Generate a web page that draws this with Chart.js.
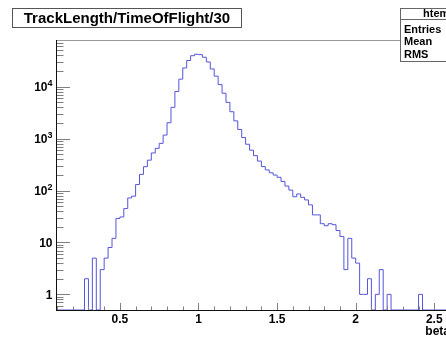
<!DOCTYPE html>
<html><head><meta charset="utf-8">
<script src="https://cdn.jsdelivr.net/npm/chart.js@4/dist/chart.umd.min.js"></script>
<style>
html,body{margin:0;padding:0;overflow:hidden;background:#fff;width:446px;height:338px}
#wrap{position:absolute;left:0;top:0;width:480px;height:338px}
</style>
</head><body><div id="wrap"><canvas id="c" width="480" height="338" style="width:480px;height:338px"></canvas></div>
<script>
// ---- data ----
const titleText = 'TrackLength/TimeOfFlight/30';
const statsName = 'htemp';
const statsLabels = ['Entries', 'Mean', 'RMS'];
const axisTitleX = 'beta';
const binStart = 0.1;
const binWidth = 0.025;
const counts = [
  0, 0, 0, 0, 0, 0, 0, 2, 0, 5,
  0, 3, 5, 8, 12, 29, 31, 45, 72, 78,
  131, 205, 288, 385, 530, 650, 811, 1172, 2024, 4010,
  8100, 14000, 23000, 32000, 39600, 42300, 41500, 37000, 30000, 22000,
  16000, 11000, 7500, 5000, 3300, 2200, 1500, 1050, 780, 600,
  470, 370, 290, 250, 220, 199, 180, 150, 122, 102,
  76, 86, 74, 66, 53, 34, 34, 23, 21, 23,
  22, 17, 13, 3, 12, 5, 4, 1, 1, 2,
  0, 1, 3, 0, 1, 0, 0, 0, 0, 0,
  0, 0, 1, 0, 0, 0, 0, 0, 0, 0
];
const xTickValues = [0.5, 1, 1.5, 2, 2.5];
const xTickLabels = ['0.5', '1', '1.5', '2', '2.5'];
const yTickValues = [1, 10, 100, 1000, 10000];
const yTickBase = ['1', '10', '10', '10', '10'];
const yTickExp = ['', '', '2', '3', '4'];
const xMin = 0.1, xMax = 2.6, yMin = 0.5, yMax = 79500;

// ---- build step points ----
const points = counts.map((c, i) => ({ x: binStart + i * binWidth, y: c > 0 ? c : yMin }));
points.push({ x: binStart + counts.length * binWidth, y: yMin });

const FONT = "'Liberation Sans', Arial, Helvetica, sans-serif";

const rootDecor = {
  id: 'rootDecor',
  afterDraw(chart) {
    const { ctx, chartArea: a, scales: { x, y } } = chart;
    ctx.save();
    // frame top / right
    ctx.lineWidth = 1;
    ctx.strokeStyle = '#9a9a9a';
    ctx.beginPath();
    ctx.moveTo(a.left, a.top + 0.5); ctx.lineTo(a.right, a.top + 0.5);
    ctx.moveTo(a.right - 0.5, a.top); ctx.lineTo(a.right - 0.5, a.bottom);
    ctx.stroke();
    // ticks
    ctx.strokeStyle = '#808080';
    ctx.beginPath();
    for (let v = 0.1; v <= xMax + 1e-9; v += 0.1) {
      const px = Math.round(x.getPixelForValue(v)) + 0.5;
      const major = Math.abs(v * 2 - Math.round(v * 2)) < 1e-6;
      ctx.moveTo(px, a.bottom); ctx.lineTo(px, a.bottom - (major ? 7 : 3.5));
    }
    for (let e = -1; e <= 4; e++) {
      for (let m = 1; m <= 9; m++) {
        const v = m * Math.pow(10, e);
        if (v < yMin || v > yMax) continue;
        const py = Math.round(y.getPixelForValue(v)) + 0.5;
        ctx.moveTo(a.left, py); ctx.lineTo(a.left + (m === 1 ? 13 : 6.5), py);
      }
    }
    ctx.stroke();
    // axes
    ctx.strokeStyle = '#111';
    ctx.beginPath();
    ctx.moveTo(a.left - 0.5, a.top); ctx.lineTo(a.left - 0.5, a.bottom + 1);
    ctx.moveTo(a.left - 1, a.bottom + 0.5); ctx.lineTo(a.right, a.bottom + 0.5);
    ctx.stroke();
    // y tick labels (base + superscript exponent), placed through the y scale
    ctx.fillStyle = '#000';
    ctx.textBaseline = 'alphabetic';
    ctx.textAlign = 'left';
    yTickValues.forEach((v, i) => {
      const py = y.getPixelForValue(v);
      ctx.font = 'bold 12px ' + FONT;
      const wb = ctx.measureText(yTickBase[i]).width;
      ctx.font = 'bold 9px ' + FONT;
      const we = yTickExp[i] ? ctx.measureText(yTickExp[i]).width : 0;
      const x0 = a.left - 4.5 - wb - we;
      ctx.font = 'bold 12px ' + FONT;
      ctx.fillText(yTickBase[i], x0, py + 4.3);
      if (yTickExp[i]) {
        ctx.font = 'bold 9px ' + FONT;
        ctx.fillText(yTickExp[i], x0 + wb, py - 0.3);
      }
    });
    // axis title
    ctx.font = 'bold 12px ' + FONT;
    ctx.textAlign = 'right';
    ctx.fillText(axisTitleX, a.right, 335);
    // title box
    ctx.fillStyle = '#fff';
    ctx.fillRect(12, 8, 229, 19);
    ctx.strokeStyle = '#555';
    ctx.strokeRect(12.5, 8.5, 229, 19);
    ctx.fillStyle = '#000';
    ctx.font = 'bold 15px ' + FONT;
    ctx.textAlign = 'center';
    ctx.fillText(titleText, 127, 22.5);
    // stats box
    ctx.fillStyle = '#fff';
    ctx.fillRect(400, 8, 78, 54);
    ctx.strokeStyle = '#666';
    ctx.strokeRect(400.5, 8.5, 78, 53);
    ctx.beginPath(); ctx.moveTo(400, 19.5); ctx.lineTo(478, 19.5); ctx.stroke();
    ctx.fillStyle = '#000';
    ctx.font = 'bold 11px ' + FONT;
    ctx.textAlign = 'left';
    ctx.fillText(statsName, 423, 17);
    const rows = [32.5, 45, 57.5];
    statsLabels.forEach((s, i) => ctx.fillText(s, 404, rows[i]));
    ctx.restore();
  }
};

new Chart(document.getElementById('c'), {
  type: 'line',
  data: {
    datasets: [{
      data: points,
      stepped: true,
      borderColor: 'rgb(85,85,220)',
      borderWidth: 1,
      pointRadius: 0,
      fill: false,
      tension: 0
    }]
  },
  options: {
    responsive: false,
    animation: false,
    layout: { padding: { left: 57, top: 40, right: 30, bottom: 0 } },
    plugins: { legend: { display: false }, tooltip: { enabled: false }, title: { display: false } },
    scales: {
      x: {
        type: 'linear', min: xMin, max: xMax,
        afterBuildTicks: s => { s.ticks = xTickValues.map(v => ({ value: v })); },
        afterFit: s => { s.height = 28; },
        grid: { display: false, drawTicks: false },
        border: { display: false },
        ticks: {
          autoSkip: false, maxRotation: 0, padding: 2, color: '#000',
          font: { family: FONT, size: 12, weight: 'bold' },
          callback: (v) => { const i = xTickValues.findIndex(t => Math.abs(t - v) < 1e-9); return i >= 0 ? xTickLabels[i] : ''; }
        }
      },
      y: {
        type: 'logarithmic', min: yMin, max: yMax,
        afterBuildTicks: s => { s.ticks = yTickValues.map(v => ({ value: v })); },
        afterFit: s => { s.width = 0; },
        grid: { display: false, drawTicks: false },
        border: { display: false },
        ticks: { display: false }
      }
    }
  },
  plugins: [rootDecor]
});
</script>
</body></html>
